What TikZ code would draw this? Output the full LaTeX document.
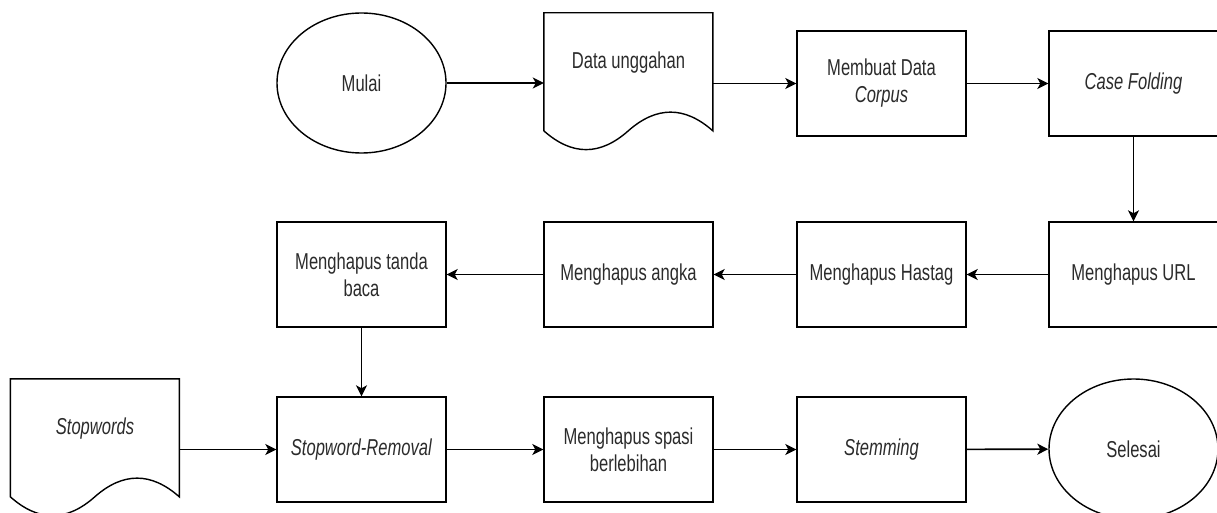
\documentclass[tikz,border=0pt]{standalone}
\usepackage{fontspec}
\setmainfont{Liberation Sans}[FakeStretch=0.72]
\usepackage{tikz}
\usetikzlibrary{positioning,arrows.meta,shapes.geometric}
\usepackage{xcolor}
\definecolor{txtgray}{HTML}{2B2B2B}

\tikzset{
  box/.style={draw,line width=1.4pt,minimum width=169pt,minimum height=105pt,align=center,inner sep=2pt},
  term/.style={draw,ellipse,line width=1.4pt,minimum width=169pt,minimum height=140pt,inner sep=0pt},
  doc/.style={minimum width=169pt,minimum height=100pt,align=center,inner sep=0pt},
  arr/.style={line width=1.6pt,-{Stealth[length=11pt,width=11pt,inset=3pt]}},
}
% document shape drawn from the north west corner of its text node
\newcommand{\docpath}[1]{\draw[line width=1.4pt,shift={(#1.north west)}] (0,0) -- (169,0) -- (169,118)
  .. controls (140.8,93.1) and (112.7,93.1) .. (84.5,118)
  .. controls (56.3,143.1) and (28.2,143.1) .. (0,118) -- cycle;}

\begin{document}
\begin{tikzpicture}[x=1pt,y=-1pt,font=\fontsize{23}{27}\selectfont,text=txtgray]
\useasboundingbox (0,0) rectangle (1217,513);
% row 1
\node[term] (mulai) at (361.5,83) {Mulai};
\node[doc] (data) at (628.5,63) {Data unggahan};
\docpath{data}
\node[box] (corpus) at (881.5,83.5) {Membuat Data\\\textit{Corpus}};
\node[box] (casef) at (1133.5,83.5) {\textit{Case Folding}};
% row 2
\node[box] (url) at (1133.5,274.5) {Menghapus URL};
\node[box] (hastag) at (881.5,274.5) {Menghapus Hastag};
\node[box] (angka) at (628.5,274.5) {Menghapus angka};
\node[box] (baca) at (361.5,274.5) {Menghapus tanda\\baca};
% row 3
\node[doc] (stopw) at (95,429) {\textit{Stopwords}};
\docpath{stopw}
\node[box] (removal) at (361.5,449.5) {\textit{Stopword-Removal}};
\node[box] (spasi) at (628.5,449.5) {Menghapus spasi\\berlebihan};
\node[box] (stem) at (881.5,449.5) {\textit{Stemming}};
\node[term] (selesai) at (1133.5,449) {Selesai};

\draw[arr] (mulai.east) -- (mulai.east -| data.west);
\draw[arr] (corpus.west -| data.east) -- (corpus.west);
\draw[arr] (corpus) -- (casef);
\draw[arr] (casef) -- (url);
\draw[arr] (url) -- (hastag);
\draw[arr] (hastag) -- (angka);
\draw[arr] (angka) -- (baca);
\draw[arr] (baca) -- (removal);
\draw[arr] (removal.west -| stopw.east) -- (removal.west);
\draw[arr] (removal) -- (spasi);
\draw[arr] (spasi) -- (stem);
\draw[arr] (stem) -- (selesai);
\end{tikzpicture}
\end{document}
